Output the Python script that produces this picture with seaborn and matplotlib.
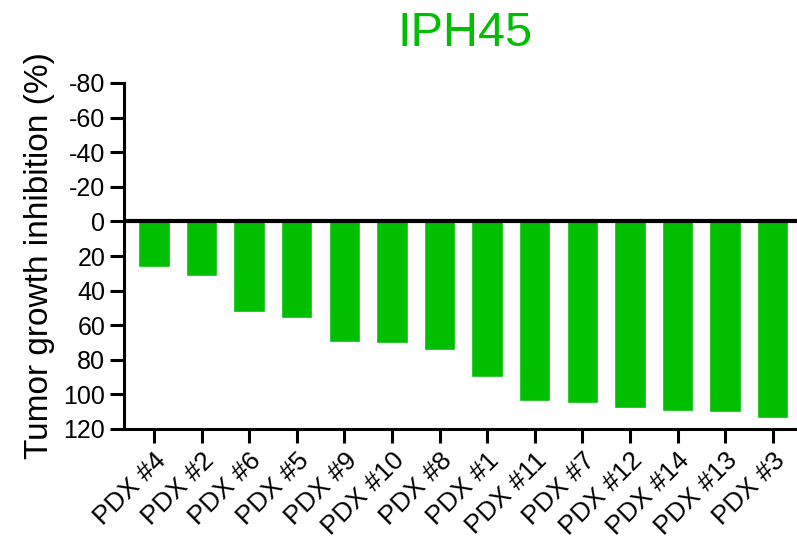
import matplotlib
matplotlib.use("Agg")
import matplotlib.pyplot as plt
import pandas as pd
import seaborn as sns

models = ["PDX #4", "PDX #2", "PDX #6", "PDX #5", "PDX #9", "PDX #10", "PDX #8",
          "PDX #1", "PDX #11", "PDX #7", "PDX #12", "PDX #14", "PDX #13", "PDX #3"]
inhibition = [26.4, 31.8, 52.4, 55.8, 69.7, 70.4, 74.2,
              89.8, 103.8, 104.8, 108.1, 109.8, 110.2, 113.6]
y_ticks = [-80, -60, -40, -20, 0, 20, 40, 60, 80, 100, 120]

GREEN = "#00BF00"

sns.set_theme(style="ticks")
plt.rcParams["font.family"] = ["Liberation Sans", "DejaVu Sans"]
plt.rcParams["axes.unicode_minus"] = False

df = pd.DataFrame({"model": models, "tgi": inhibition})

fig = plt.figure(figsize=(7.97, 5.41), dpi=100)
ax = fig.add_axes([124 / 797, 1 - 429 / 541, 1 - 124 / 797, (429 - 83) / 541])
sns.barplot(data=df, x="model", y="tgi", order=models, color=GREEN,
            saturation=1, width=0.66, ax=ax)

ax.set_ylim(120, -80)
ax.set_yticks(y_ticks)
ax.set_xlim(-0.63, 13.51)
ax.axhline(0, color="black", linewidth=3, zorder=5)

sns.despine(ax=ax)
for side in ["left", "bottom"]:
    ax.spines[side].set_linewidth(2.2)
    ax.spines[side].set_color("black")
ax.tick_params(axis="both", length=10, width=2.2, color="black",
               labelsize=18, labelcolor="black")
ax.tick_params(axis="x", labelsize=19, pad=4)
plt.setp(ax.get_xticklabels(), rotation=45, ha="right", rotation_mode="anchor")

ax.set_xlabel("")
ax.set_ylabel("Tumor growth inhibition (%)", fontsize=24, color="black", labelpad=6)
fig.text(0.583, 0.938, "IPH45", color=GREEN, fontsize=35, ha="center", va="center")

fig.savefig("out.png", dpi=100)
